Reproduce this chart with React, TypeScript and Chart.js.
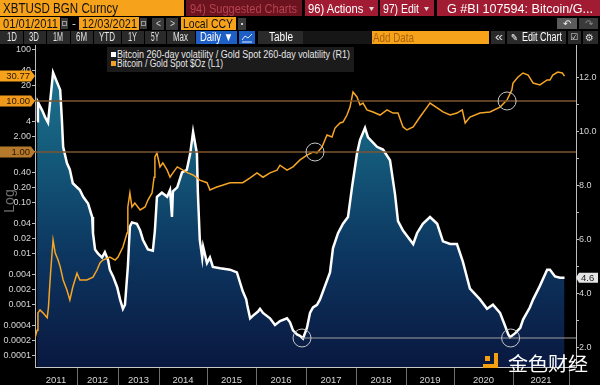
import React, { useEffect, useRef } from "react";
import { Chart, registerables } from "chart.js";

Chart.register(...registerables);

const UI_FONT = "'Liberation Sans', Arial, sans-serif";

// ---------- data ----------
const YEAR_LABELS = ["2011", "2012", "2013", "2014", "2015", "2016", "2017", "2018", "2019", "2020", "2021"];
// observations plotted per calendar year (Bloomberg spaces the x axis by observation, not by time)
const POINTS_PER_YEAR = [252, 246, 246, 288, 294, 300, 300, 300, 288, 354, 336];
const X_FIRST_DATE = 2011.0;
const X_LAST_DATE = 2022.125;

// Bitcoin 260-day volatility / Gold Spot 260-day volatility (R1)
const VOL_DATES = [
  2011.05, 2011.07, 2011.17, 2011.24, 2011.31, 2011.43, 2011.60, 2011.64, 2011.67, 2011.76, 2011.83, 2011.90,
  2012.07, 2012.15, 2012.27, 2012.37, 2012.39, 2012.44, 2012.51, 2012.61, 2012.68, 2012.76, 2012.80, 2012.88, 2012.98,
  2013.05, 2013.12, 2013.17, 2013.24, 2013.29, 2013.34, 2013.46, 2013.54, 2013.61, 2013.73, 2013.85, 2013.90, 2013.95,
  2014.06, 2014.17, 2014.23, 2014.27, 2014.29, 2014.38, 2014.48, 2014.58, 2014.65, 2014.71, 2014.79, 2014.81, 2014.85, 2014.90, 2014.92,
  2015.00, 2015.06, 2015.12, 2015.27, 2015.47, 2015.61, 2015.73, 2015.80, 2015.82, 2015.88, 2015.94,
  2016.04, 2016.08, 2016.14, 2016.28, 2016.38, 2016.48, 2016.62, 2016.68, 2016.74, 2016.82, 2016.88, 2016.94,
  2017.02, 2017.08, 2017.14, 2017.22, 2017.28, 2017.48, 2017.54, 2017.64, 2017.74, 2017.84, 2017.92,
  2018.02, 2018.08, 2018.18, 2018.24, 2018.42, 2018.54, 2018.68, 2018.78, 2018.84, 2018.94,
  2019.15, 2019.23, 2019.35, 2019.50, 2019.65, 2019.77, 2019.92,
  2020.05, 2020.15, 2020.27, 2020.44, 2020.56, 2020.66, 2020.78, 2020.86, 2020.92, 2020.95,
  2021.04, 2021.13, 2021.18, 2021.30, 2021.36, 2021.48, 2021.61, 2021.66, 2021.75, 2021.84, 2021.92,
];
const VOL_VALUES = [
  10.4, 11.1, 10.8, 10.55, 10.35, 12.2, 11.55, 10.45, 9.45, 8.85, 8.6, 8.1,
  7.85, 7.6, 7.35, 6.85, 6.25, 5.65, 5.5, 5.35, 5.55, 5.25, 4.9, 4.65, 4.25,
  3.8, 3.45, 3.6, 5.0, 6.5, 6.65, 6.6, 6.35, 6.0, 5.65, 5.6, 6.35, 7.6,
  7.75, 7.6, 7.85, 6.85, 7.8, 7.95, 8.5, 8.6, 9.2, 10.0, 9.2, 7.75, 6.0, 5.35, 5.75,
  5.15, 5.35, 5.0, 4.95, 4.9, 4.8, 4.1, 3.8, 3.6, 3.1, 3.2,
  3.35, 3.45, 3.3, 3.1, 2.85, 3.0, 3.1, 2.95, 2.65, 2.5, 2.45, 2.35,
  2.75, 3.3, 3.5, 3.6, 3.8, 4.8, 5.7, 6.25, 6.6, 6.85, 7.95,
  9.2, 9.7, 10.15, 9.8, 9.45, 9.35, 8.95, 7.7, 6.7, 6.35,
  5.85, 6.25, 6.6, 6.85, 6.6, 5.95, 5.85,
  5.85, 5.2, 4.2, 3.8, 3.45, 3.6, 3.3, 2.85, 2.5, 2.4,
  2.55, 2.75, 3.05, 3.5, 3.8, 4.3, 4.9, 4.9, 4.65, 4.6, 4.6,
];

// Bitcoin / Gold Spot $Oz (L1)
const RATIO_DATES = [
  2011.00, 2011.05, 2011.07, 2011.12, 2011.19, 2011.29, 2011.32, 2011.34, 2011.37, 2011.43, 2011.48, 2011.55, 2011.60, 2011.67, 2011.76, 2011.83, 2011.90,
  2012.00, 2012.07, 2012.24, 2012.39, 2012.49, 2012.56, 2012.63, 2012.80, 2012.93,
  2013.00, 2013.12, 2013.22, 2013.24, 2013.29, 2013.34, 2013.41, 2013.54, 2013.66, 2013.73, 2013.83, 2013.88, 2013.90, 2013.95,
  2014.02, 2014.08, 2014.17, 2014.23, 2014.29, 2014.38, 2014.50, 2014.60, 2014.71, 2014.85,
  2015.00, 2015.06, 2015.20, 2015.33, 2015.47, 2015.61, 2015.73, 2015.88,
  2016.02, 2016.14, 2016.28, 2016.42, 2016.48, 2016.62, 2016.74, 2016.88,
  2017.02, 2017.14, 2017.22, 2017.32, 2017.42, 2017.52, 2017.58, 2017.68, 2017.74, 2017.82, 2017.88, 2017.94,
  2018.02, 2018.08, 2018.14, 2018.22, 2018.34, 2018.48, 2018.62, 2018.74, 2018.84, 2018.94,
  2019.02, 2019.15, 2019.29, 2019.44, 2019.50, 2019.65, 2019.77, 2019.92,
  2020.05, 2020.14, 2020.19, 2020.27, 2020.44, 2020.61, 2020.78, 2020.90, 2020.98,
  2021.00, 2021.09, 2021.18, 2021.27, 2021.36, 2021.48, 2021.61, 2021.66, 2021.71, 2021.80, 2021.88, 2021.92,
];
const RATIO_VALUES = [
  0.000225, 0.00032, 0.0007, 0.0008, 0.0007, 0.00056, 0.0009, 0.0017, 0.0042, 0.0188, 0.0105, 0.0076, 0.0056, 0.0031, 0.00197, 0.00125, 0.00225,
  0.0042, 0.0031, 0.0031, 0.0035, 0.0049, 0.0067, 0.0076, 0.0087, 0.0076,
  0.0087, 0.0137, 0.0258, 0.0835, 0.157, 0.0835, 0.1, 0.073, 0.0835, 0.114, 0.157, 0.32, 0.8, 0.955,
  0.51, 0.61, 0.44, 0.32, 0.39, 0.51, 0.44, 0.39, 0.354, 0.28,
  0.25, 0.18, 0.206, 0.225, 0.25, 0.25, 0.25, 0.31,
  0.39, 0.32, 0.39, 0.44, 0.55, 0.44, 0.51, 0.7,
  0.87, 1.0, 0.955, 1.25, 2.15, 1.97, 2.95, 3.7, 3.87, 5.3, 7.6, 15.0,
  12.0, 8.35, 9.1, 6.7, 6.1, 5.3, 6.7, 5.8, 5.8, 3.1,
  2.7, 3.1, 4.85, 7.6, 9.1, 7.3, 6.1, 5.3,
  5.8, 6.7, 3.7, 4.85, 5.8, 6.1, 7.6, 10.5, 16.4,
  22.5, 29.5, 35.4, 32.3, 22.5, 20.6, 25.8, 25.8, 32.3, 37.0, 35.4, 30.77,
];

// axis ticks
const LEFT_MIN = 6.08e-5;
const LEFT_MAX = 125.3;
const LEFT_TICKS = [100, 40, 20, 10, 4, 2, 1, 0.4, 0.2, 0.1, 0.04, 0.02, 0.01, 0.004, 0.002, 0.001, 0.0004, 0.0002, 0.0001];
const LEFT_TICK_LABELS = ["100", "40", "20", "10", "4", "2.00", "1", "0.40", "0.20", "0.10", "0.04", "0.02", "0.01", "0.004", "0.002", "0.001", "0.0004", "0.0002", "0.0001"];
const RIGHT_MIN = 1.296;
const RIGHT_MAX = 13.22;
const RIGHT_TICKS = [2, 3, 4, 5, 6, 7, 8, 9, 10, 11, 12];
const RIGHT_TICK_LABELS = ["2.0", "", "4.0", "", "6.0", "", "8.0", "", "10.0", "", "12.0"];

// annotations
const LEFT_LEVELS = [10, 1];
const LEFT_LEVEL_TAG_COLORS = ["#ef9a1c", "#b57a2c"];
const RIGHT_LEVEL = 2.37;
const RIGHT_LEVEL_FROM = 2016.92;
const LEFT_CIRCLE_DATES = [2017.18, 2020.9];
const LEFT_CIRCLE_VALUES = [1.0, 10.0];
const RIGHT_CIRCLE_DATES = [2016.92, 2020.96];
const RIGHT_CIRCLE_VALUES = [2.37, 2.37];

// ---------- helpers ----------
const CUM = POINTS_PER_YEAR.reduce<number[]>((a, n) => { a.push(a[a.length - 1] + n); return a; }, [0]);
function toX(d: number) {
  let i = Math.floor(d) - 2011;
  i = Math.max(0, Math.min(POINTS_PER_YEAR.length - 1, i));
  return CUM[i] + (d - (2011 + i)) * POINTS_PER_YEAR[i];
}

type XT = { value: number; label: string; sep: boolean };
const X_TICKS: XT[] = [];
YEAR_LABELS.forEach((lab, i) => {
  X_TICKS.push({ value: toX(2011 + i + 0.5), label: lab, sep: false });
  X_TICKS.push({ value: toX(2012 + i), label: "", sep: true });
});

let measureCtx: CanvasRenderingContext2D | null = null;
function measure(text: string, font: string) {
  if (!measureCtx) measureCtx = document.createElement("canvas").getContext("2d");
  if (!measureCtx) return 0;
  measureCtx.font = font;
  return measureCtx.measureText(text).width;
}

function FitText(p: { x: number; y: number; w?: number; size: number; color: string; text: string; family?: string; weight?: string }) {
  const fam = p.family || UI_FONT;
  const font = `${p.weight || "normal"} ${p.size}px ${fam}`;
  let sx = 1;
  if (p.w) {
    const m = measure(p.text, font);
    if (m > 0) sx = p.w / m;
  }
  return (
    <div
      style={{
        position: "absolute",
        left: p.x,
        top: p.y - p.size * 0.6,
        font,
        lineHeight: `${p.size * 1.2}px`,
        color: p.color,
        whiteSpace: "nowrap",
        transform: `scaleX(${sx})`,
        transformOrigin: "left center",
      }}
    >
      {p.text}
    </div>
  );
}

function Box(p: { l: number; t: number; w: number; h: number; bg: string; children?: React.ReactNode; style?: React.CSSProperties }) {
  return (
    <div style={{ position: "absolute", left: p.l, top: p.t, width: p.w, height: p.h, background: p.bg, ...(p.style || {}) }}>
      {p.children}
    </div>
  );
}

const ORANGE = "#f7a21b";

function leftTag(ctx: CanvasRenderingContext2D, y: number, text: string, bg: string) {
  ctx.fillStyle = bg;
  ctx.beginPath();
  ctx.moveTo(0, y - 5.5);
  ctx.lineTo(31, y - 5.5);
  ctx.lineTo(35, y);
  ctx.lineTo(31, y + 5.5);
  ctx.lineTo(0, y + 5.5);
  ctx.closePath();
  ctx.fill();
  ctx.fillStyle = "#2a1700";
  ctx.font = `9.5px ${UI_FONT}`;
  ctx.textAlign = "right";
  ctx.textBaseline = "middle";
  ctx.fillText(text, 30, y + 0.5);
}

const annotPlugin = {
  id: "bbgAnnot",
  afterDatasetsDraw(chart: any) {
    const { ctx, chartArea: a, scales } = chart;
    const x = scales.x, yL = scales.yL, yR = scales.yR;
    ctx.save();
    ctx.strokeStyle = "#7c5630";
    ctx.lineWidth = 1.5;
    LEFT_LEVELS.forEach((v) => {
      const y = yL.getPixelForValue(v);
      ctx.beginPath();
      ctx.moveTo(a.left, y);
      ctx.lineTo(a.right, y);
      ctx.stroke();
    });
    ctx.strokeStyle = "#a0a0a0";
    ctx.lineWidth = 1;
    const yr = yR.getPixelForValue(RIGHT_LEVEL);
    ctx.beginPath();
    ctx.moveTo(x.getPixelForValue(toX(RIGHT_LEVEL_FROM)), yr);
    ctx.lineTo(a.right, yr);
    ctx.stroke();
    ctx.strokeStyle = "#c8c8c8";
    ctx.lineWidth = 1;
    LEFT_CIRCLE_DATES.forEach((d, i) => {
      ctx.beginPath();
      ctx.arc(x.getPixelForValue(toX(d)), yL.getPixelForValue(LEFT_CIRCLE_VALUES[i]), 9, 0, Math.PI * 2);
      ctx.stroke();
    });
    RIGHT_CIRCLE_DATES.forEach((d, i) => {
      ctx.beginPath();
      ctx.arc(x.getPixelForValue(toX(d)), yR.getPixelForValue(RIGHT_CIRCLE_VALUES[i]), 9, 0, Math.PI * 2);
      ctx.stroke();
    });
    ctx.restore();
  },
  afterDraw(chart: any) {
    const { ctx, scales } = chart;
    const yL = scales.yL, yR = scales.yR;
    ctx.save();
    LEFT_LEVELS.forEach((v, i) => leftTag(ctx, yL.getPixelForValue(v), v.toFixed(2), LEFT_LEVEL_TAG_COLORS[i]));
    const last = RATIO_VALUES[RATIO_VALUES.length - 1];
    leftTag(ctx, yL.getPixelForValue(last), last.toFixed(2), ORANGE);
    const lastVol = VOL_VALUES[VOL_VALUES.length - 1];
    const y = yR.getPixelForValue(lastVol);
    ctx.fillStyle = "#e4e4e4";
    ctx.beginPath();
    ctx.moveTo(576, y);
    ctx.lineTo(579, y - 5);
    ctx.lineTo(598, y - 5);
    ctx.lineTo(598, y + 5);
    ctx.lineTo(579, y + 5);
    ctx.closePath();
    ctx.fill();
    ctx.fillStyle = "#1a1a1a";
    ctx.font = `9.5px ${UI_FONT}`;
    ctx.textAlign = "left";
    ctx.textBaseline = "middle";
    ctx.fillText(lastVol.toFixed(1), 581, y + 0.5);
    ctx.restore();
  },
};

function ChartCanvas() {
  const ref = useRef<HTMLCanvasElement | null>(null);
  useEffect(() => {
    if (!ref.current) return;
    const tickFont = { family: UI_FONT, size: 9 };
    const chart = new Chart(ref.current, {
      type: "line",
      data: {
        datasets: [
          {
            label: "Bitcoin / Gold Spot $Oz (L1)",
            data: RATIO_DATES.map((d, i) => ({ x: toX(d), y: RATIO_VALUES[i] })),
            xAxisID: "x",
            yAxisID: "yL",
            borderColor: "#f6a524",
            borderWidth: 1.5,
            pointRadius: 0,
            fill: false,
            tension: 0,
          },
          {
            label: "Bitcoin 260-day volatility / Gold Spot 260-day volatility (R1)",
            data: VOL_DATES.map((d, i) => ({ x: toX(d), y: VOL_VALUES[i] })),
            xAxisID: "x",
            yAxisID: "yR",
            borderColor: "#ffffff",
            borderWidth: 2.5,
            pointRadius: 0,
            tension: 0,
            fill: "start",
            backgroundColor: (c: any) => {
              const area = c.chart.chartArea;
              if (!area) return "#0d3a5e";
              const g = c.chart.ctx.createLinearGradient(0, area.top, 0, area.bottom);
              g.addColorStop(0, "#217b95");
              g.addColorStop(0.35, "#14597a");
              g.addColorStop(0.65, "#0c3660");
              g.addColorStop(1, "#0a1840");
              return g;
            },
          },
        ],
      },
      options: {
        animation: false,
        responsive: false,
        devicePixelRatio: 1,
        events: [],
        layout: { padding: { top: 45, left: 0, right: 0, bottom: 0 } },
        plugins: { legend: { display: false }, tooltip: { enabled: false } },
        scales: {
          x: {
            type: "linear",
            position: "bottom",
            bounds: "data",
            min: toX(X_FIRST_DATE),
            max: toX(X_LAST_DATE),
            afterFit: (s: any) => { s.height = 18; },
            afterBuildTicks: (s: any) => { s.ticks = X_TICKS.map((t) => ({ value: t.value })); },
            ticks: {
              autoSkip: false,
              maxRotation: 0,
              minRotation: 0,
              padding: -10.5,
              color: "#d6d6d6",
              font: { family: UI_FONT, size: 9.5 },
              callback: (_v: any, i: number) => X_TICKS[i].label,
            },
            grid: {
              drawOnChartArea: false,
              drawTicks: true,
              tickLength: 18,
              color: (c: any) => (X_TICKS[c.index] && X_TICKS[c.index].sep ? "#6e6e6e" : "rgba(0,0,0,0)"),
            },
            border: { display: true, color: "#c8c8c8", width: 1 },
          },
          yL: {
            type: "logarithmic",
            position: "left",
            bounds: "data",
            min: LEFT_MIN,
            max: LEFT_MAX,
            afterFit: (s: any) => { s.width = 35; },
            afterBuildTicks: (s: any) => { s.ticks = LEFT_TICKS.map((v) => ({ value: v })); },
            ticks: {
              autoSkip: false,
              padding: 1,
              color: "#d6d6d6",
              font: tickFont,
              callback: (_v: any, i: number) => LEFT_TICK_LABELS[i],
            },
            grid: { drawOnChartArea: false, drawTicks: true, tickLength: 3, color: "#bdbdbd" },
            border: { display: true, color: "#bdbdbd", width: 1 },
          },
          yR: {
            type: "linear",
            position: "right",
            bounds: "data",
            min: RIGHT_MIN,
            max: RIGHT_MAX,
            afterFit: (s: any) => { s.width = 24; },
            afterBuildTicks: (s: any) => { s.ticks = RIGHT_TICKS.map((v) => ({ value: v })); },
            ticks: {
              autoSkip: false,
              padding: 0,
              color: "#d6d6d6",
              font: tickFont,
              callback: (_v: any, i: number) => RIGHT_TICK_LABELS[i],
            },
            grid: { drawOnChartArea: false, drawTicks: true, tickLength: 3, color: "#bdbdbd" },
            border: { display: true, color: "#bdbdbd", width: 1 },
          },
        },
      } as any,
      plugins: [annotPlugin as any],
    });
    return () => chart.destroy();
  }, []);
  return <canvas ref={ref} width={600} height={385} style={{ position: "absolute", left: 0, top: 0, width: 600, height: 385 }} />;
}

const RANGE_BUTTONS: [number, number, string, number, number][] = [
  [0, 23, "1D", 7, 10],
  [24, 22, "3D", 29, 10],
  [47, 23, "1M", 53, 10],
  [71, 22, "6M", 76, 11],
  [94, 27, "YTD", 99, 16],
  [122, 22, "1Y", 128, 9],
  [145, 21, "5Y", 151, 8],
  [167, 28, "Max", 173, 15],
];

function CalIcon({ l }: { l: number }) {
  return (
    <Box l={l} t={18} w={7} h={11} bg="#3a3a3a">
      <div style={{ position: "absolute", left: 1, top: 3, width: 5, height: 5, border: "1px solid #9a9a9a", boxSizing: "border-box" }} />
    </Box>
  );
}

export default function App() {
  useEffect(() => {
    document.body.style.margin = "0";
    document.body.style.background = "#000";
  }, []);
  return (
    <div style={{ position: "fixed", left: 0, top: 0, width: 600, height: 385, background: "#000", overflow: "hidden" }}>
      <ChartCanvas />

      {/* row 1 */}
      <Box l={0} t={0} w={184} h={16} bg={ORANGE} />
      <FitText x={3} y={8.5} w={115} size={14} color="#111" text="XBTUSD BGN Curncy" />
      <Box l={186} t={0} w={116} h={16} bg="#6b1420" />
      <FitText x={190} y={8.5} w={107} size={13} color="#b8424f" text="94) Suggested Charts" />
      <Box l={305} t={0} w={73} h={16} bg="#a11c33" />
      <FitText x={308} y={8.5} w={56} size={13} color="#fff" text="96) Actions" />
      <FitText x={369} y={9} w={5} size={8} color="#ddd" text="▾" />
      <Box l={380} t={0} w={54} h={16} bg="#a11c33" />
      <FitText x={383} y={8.5} w={36} size={13} color="#fff" text="97) Edit" />
      <FitText x={424} y={9} w={5} size={8} color="#ddd" text="▾" />
      <Box l={437} t={0} w={163} h={16} bg="#a11c33" />
      <FitText x={447} y={8.5} w={146} size={13} color="#fff" text="G #BI 107594: Bitcoin/G..." />

      {/* row 2 */}
      <Box l={0} t={17} w={60} h={13} bg={ORANGE} />
      <FitText x={3} y={23.5} w={55} size={13} color="#111" text="01/01/2011" />
      <CalIcon l={61} />
      <FitText x={72} y={23.5} w={4} size={11} color="#ddd" text="-" />
      <Box l={79} t={17} w={60} h={13} bg={ORANGE} />
      <FitText x={82} y={23.5} w={55} size={13} color="#111" text="12/03/2021" />
      <CalIcon l={140} />
      <Box l={152} t={18} w={12} h={12} bg="#3a3a3a" />
      <FitText x={156} y={24} w={5} size={11} color="#cfcfcf" text="<" />
      <Box l={166} t={18} w={12} h={12} bg="#3a3a3a" />
      <FitText x={170} y={24} w={5} size={11} color="#cfcfcf" text=">" />
      <Box l={181} t={17} w={55} h={13} bg={ORANGE} />
      <FitText x={183} y={23.5} w={50} size={13} color="#111" text="Local CCY" />
      <Box l={238} t={18} w={8} h={12} bg="#3a3a3a" />
      <Box l={241} t={23} w={2} h={2} bg="#cfcfcf" />
      <Box l={557} t={18} w={20} h={11} bg="#5a5a5a" />
      <FitText x={563} y={23.5} w={8} size={10} color="#eee" text="↶" />
      <Box l={579} t={18} w={19} h={11} bg="#3a3a3a" />
      <FitText x={585} y={23.5} w={8} size={10} color="#888" text="↷" />

      {/* row 3 */}
      {RANGE_BUTTONS.map(([l, w, t, tx, tw]) => (
        <React.Fragment key={t}>
          <Box l={l} t={31} w={w} h={13} bg="#2a2a2a" />
          <FitText x={tx} y={37.5} w={tw} size={12} color="#e4e4e4" text={t} />
        </React.Fragment>
      ))}
      <Box l={196} t={31} w={41} h={13} bg="#1e5fc6" />
      <FitText x={200} y={37.5} w={33} size={12} color="#fff" text="Daily ▼" />
      <Box l={239} t={31} w={16} h={13} bg="#1e5fc6">
        <svg width={16} height={13} style={{ position: "absolute", left: 0, top: 0 }}>
          <polyline points="3,9 6,5 9,7 13,3" fill="none" stroke="#dfe8ff" strokeWidth={1} />
          <line x1={3} y1={11} x2={13} y2={11} stroke="#dfe8ff" strokeWidth={1} />
        </svg>
      </Box>
      <Box l={258} t={31} w={45} h={13} bg="#2a2a2a" />
      <FitText x={269} y={37.5} w={24} size={12} color="#fff" text="Table" />
      <Box l={303} t={31} w={69} h={13} bg="#161616" />
      <Box l={372} t={31} w={117} h={13} bg={ORANGE} />
      <FitText x={373} y={37.5} w={41} size={13} color="#a8620c" text="Add Data" />
      <Box l={491} t={31} w={14} h={13} bg="#2a2a2a" />
      <FitText x={495} y={37.5} w={8} size={12} color="#ddd" text="«" />
      <Box l={507} t={31} w={59} h={13} bg="#2a2a2a" />
      <FitText x={511} y={37.5} w={7} size={10} color="#fff" text="✎" family="'DejaVu Sans', sans-serif" />
      <FitText x={522} y={37.5} w={40} size={12} color="#fff" text="Edit Chart" />
      <Box l={568} t={31} w={13} h={13} bg="#2a2a2a" />
      <FitText x={570} y={37.5} w={8} size={9} color="#ddd" text="☑" family="'DejaVu Sans', sans-serif" />
      <Box l={583} t={31} w={15} h={13} bg="#2a2a2a" />
      <FitText x={585} y={37.5} w={9} size={10} color="#ddd" text="⚙" family="'DejaVu Sans', sans-serif" />

      {/* legend */}
      <Box l={107} t={47} w={247} h={25} bg="#1b1b1b" />
      <Box l={111} t={52} w={5} h={5} bg="#ffffff" />
      <FitText x={117} y={54.5} w={233} size={10} color="#e8e8e8" text="Bitcoin 260-day volatility / Gold Spot 260-day volatility (R1)" />
      <Box l={111} t={61} w={5} h={5} bg="#f4a225" />
      <FitText x={117} y={63.5} w={106} size={10} color="#e8e8e8" text="Bitcoin / Gold Spot $Oz (L1)" />

      {/* axis caption */}
      <div style={{ position: "absolute", left: -7, top: 193, width: 32, height: 16, font: `14px ${UI_FONT}`, lineHeight: "16px", color: "#707070", textAlign: "center", transform: "rotate(-90deg)" }}>Log</div>

      {/* watermark */}
      <Box l={494} t={353} w={4} h={15} bg="#f5a00f" />
      <Box l={483} t={364} w={15} h={4} bg="#f5a00f" />
      <Box l={485} t={356} w={5} h={5} bg="#f5a00f" />
      <FitText x={508} y={363} w={80} size={19} color="#ffffff" text="金色财经" family="'Noto Sans CJK SC', sans-serif" />
    </div>
  );
}
